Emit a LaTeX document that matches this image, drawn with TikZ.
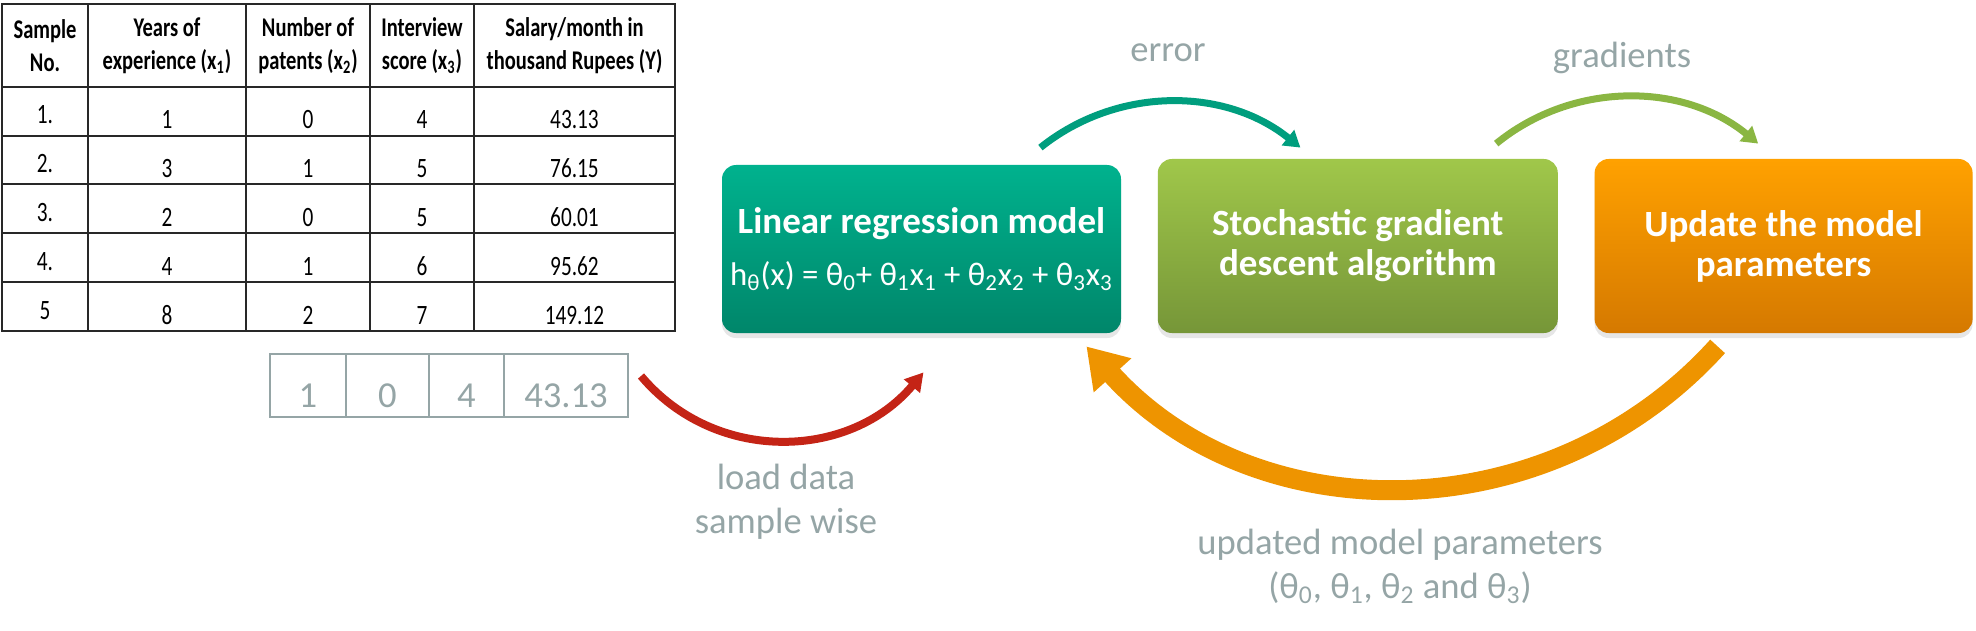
\documentclass[tikz,border=0pt]{standalone}
\usepackage{fontspec}
\setmainfont{Carlito}
\newfontfamily\tablefont{Carlito}[FakeStretch=0.76]
\usetikzlibrary{positioning,arrows.meta,shadows}

\definecolor{lrtop}{RGB}{0,178,142}
\definecolor{lrbot}{RGB}{0,134,106}
\definecolor{sgdtop}{RGB}{160,199,74}
\definecolor{sgdbot}{RGB}{118,150,56}
\definecolor{updtop}{RGB}{255,161,0}
\definecolor{updbot}{RGB}{213,121,0}
\definecolor{errcol}{RGB}{0,158,126}
\definecolor{gradcol}{RGB}{138,182,66}
\definecolor{loadcol}{RGB}{196,36,22}
\definecolor{paramcol}{RGB}{238,148,0}
\definecolor{notegray}{RGB}{149,165,166}
\definecolor{tablegray}{RGB}{40,40,40}

\begin{document}
\begin{tikzpicture}[x=0.5pt, y=-0.5pt,
        gridline/.style={draw=tablegray, line width=1pt},
        head/.style={font=\tablefont\fontsize{13.5}{16.5}\selectfont\bfseries, align=center, inner sep=0pt},
        cell/.style={font=\tablefont\fontsize{14}{16}\selectfont, anchor=base, inner sep=0pt},
        rowcell/.style={rectangle, draw=notegray, line width=1pt, text=notegray, font=\fontsize{18.3}{22}\selectfont, minimum height=31.5pt, text height=21.5pt, text depth=0pt, inner sep=0pt, outer sep=0pt},
        box/.style={rectangle, rounded corners=7pt, text=white, align=center, inner xsep=2pt, font=\fontsize{18.5}{20}\selectfont\bfseries, drop shadow={shadow xshift=0pt, shadow yshift=-2.5pt, opacity=0.2}},
        note/.style={text=notegray, align=center, font=\fontsize{18.3}{22}\selectfont},
    ]
    \useasboundingbox (0,0) rectangle (1976,631);

    % data table
    \draw[gridline] (2,4) rectangle (675,331);
    \foreach \x in {88,246,370,474} \draw[gridline] (\x,4) -- (\x,331);
    \foreach \y in {87,136,184,233,282} \draw[gridline] (2,\y) -- (675,\y);

    \node[head] (hd1) at (45,45.5) {Sample\\No.};
    \node[head] (hd2) at (167,45.5) {Years of\\experience (x\textsubscript{1})};
    \node[head] (hd3) at (308,45.5) {Number of\\patents (x\textsubscript{2})};
    \node[head] (hd4) at (422,45.5) {Interview\\score (x\textsubscript{3})};
    \node[head] (hd5) at (574.5,45.5) {Salary/month in\\thousand Rupees (Y)};

    \foreach \r/\y/\sno/\xa/\xb/\xc/\sal in {1/129/1./1/0/4/43.13, 2/177/2./3/1/5/76.15, 3/226/3./2/0/5/60.01, 4/275/4./4/1/6/95.62, 5/324/5/8/2/7/149.12} {
        \node[cell] (no\r) at (45,\y-5) {\sno};
        \node[cell] (xa\r) at (167,\y) {\xa};
        \node[cell] (xb\r) at (308,\y) {\xb};
        \node[cell] (xc\r) at (422,\y) {\xc};
        \node[cell] (sal\r) at (574.5,\y) {\sal};
    }

    % one sample
    \node[rowcell, minimum width=38pt] (v1) at (308,385.5) {1};
    \node[rowcell, minimum width=41.5pt, right=0pt of v1] (v2) {0};
    \node[rowcell, minimum width=37.5pt, right=0pt of v2] (v3) {4};
    \node[rowcell, minimum width=62pt, right=0pt of v3] (v4) {43.13};

    % boxes
    \node[box, top color=lrtop, bottom color=lrbot, minimum width=199.5pt, minimum height=84pt] (lr) at (921.5,249) {Linear regression model\\[6pt]\mdseries\fontsize{16.4}{20}\selectfont h\textsubscript{θ}(x) = θ\textsubscript{0}+ θ\textsubscript{1}x\textsubscript{1} + θ\textsubscript{2}x\textsubscript{2} + θ\textsubscript{3}x\textsubscript{3}};
    \node[box, top color=sgdtop, bottom color=sgdbot, minimum width=200pt, minimum height=87pt, right=18pt of lr, yshift=1.5pt] (sgd) {Stochastic gradient\\descent algorithm};
    \node[box, top color=updtop, bottom color=updbot, minimum width=189pt, minimum height=87pt, right=18pt of sgd] (upd) {Update the model\\parameters};

    % labels
    \node[note] (err) at (1168,53) {error};
    \node[note] (grd) at (1622,58) {gradients};
    \node[note] (load) at (786,502) {load data\\sample wise};
    \node[note] (upar) at (1400,566) {updated model parameters\\(θ\textsubscript{0}, θ\textsubscript{1}, θ\textsubscript{2} and θ\textsubscript{3})};

    % arrows
    \draw[draw=errcol, line width=3.5pt, -{Triangle[length=8pt,width=9.5pt]}] ([shift={(-81,-17)}]lr.north east) .. controls +(76,-61) and +(-76,-61) .. ([shift={(143,-11)}]sgd.north west);
    \draw[draw=gradcol, line width=3.5pt, -{Triangle[length=8pt,width=9.5pt]}] ([shift={(-62,-15)}]sgd.north east) .. controls +(76,-62) and +(-76,-62) .. ([shift={(164,-15)}]upd.north west);
    \draw[draw=loadcol, line width=4pt, -{Triangle[length=9pt,width=10pt]}] ([shift={(13,22)}]v4.north east) .. controls +(74,88) and +(-74,88) .. ([shift={(2,39)}]lr.south);
    \draw[draw=paramcol, line width=10pt, -{Triangle[length=19.5pt,width=24pt]}] ([shift={(-66,13)}]upd.south) .. controls +(-169,187) and +(169,187) .. ([shift={(-35,13)}]lr.south east);
\end{tikzpicture}
\end{document}
